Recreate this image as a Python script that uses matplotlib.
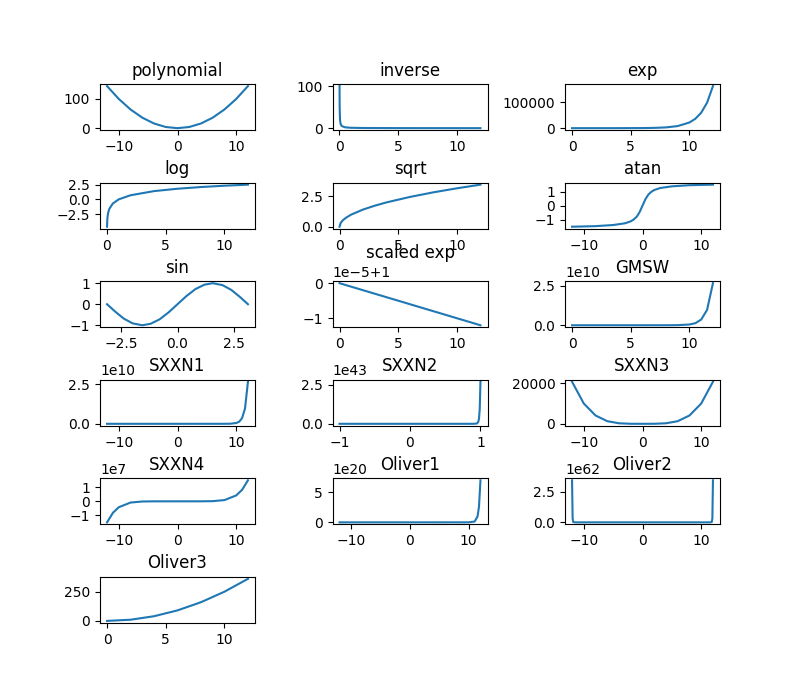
import matplotlib
matplotlib.use('Agg')
import matplotlib.pyplot as plt

# values, one (x, y) list pair per panel
poly_x = [-12, -10, -8, -6, -4, -2, 0, 2, 4, 6, 8, 10, 12]
poly_y = [144, 100, 64, 36, 16, 4, 0, 4, 16, 36, 64, 100, 144]
inv_x = [0.01, 0.02, 0.05, 0.1, 0.2, 0.5, 1, 2, 5, 12]
inv_y = [100, 50, 20, 10, 5, 2, 1, 0.5, 0.2, 0.08]
exp_x = [0, 2, 4, 6, 7, 8, 9, 10, 10.5, 11, 11.5, 12]
exp_y = [1, 7.4, 55, 403, 1097, 2981, 8103, 22026, 36316, 59874, 98715, 162755]
log_x = [0.01, 0.03, 0.05, 0.1, 0.2, 0.5, 1, 2, 4, 6, 8, 10, 12]
log_y = [-4.6, -3.5, -3.0, -2.3, -1.6, -0.7, 0, 0.69, 1.39, 1.79, 2.08, 2.3, 2.48]
sqrt_x = [0, 0.1, 0.3, 0.6, 1, 2, 3, 4, 6, 8, 10, 12]
sqrt_y = [0, 0.32, 0.55, 0.77, 1, 1.41, 1.73, 2, 2.45, 2.83, 3.16, 3.46]
atan_x = [-12, -8, -5, -3, -2, -1.5, -1, -0.5, 0, 0.5, 1, 1.5, 2, 3, 5, 8, 12]
atan_y = [-1.49, -1.45, -1.37, -1.25, -1.11, -0.98, -0.79, -0.46, 0, 0.46, 0.79, 0.98, 1.11, 1.25, 1.37, 1.45, 1.49]
sin_x = [-3.14, -2.8, -2.4, -2.0, -1.57, -1.2, -0.8, -0.4, 0, 0.4, 0.8, 1.2, 1.57, 2.0, 2.4, 2.8, 3.14]
sin_y = [0, -0.33, -0.68, -0.91, -1, -0.93, -0.72, -0.39, 0, 0.39, 0.72, 0.93, 1, 0.91, 0.68, 0.33, 0]
sexp_x = [0, 12]
sexp_y = [1.0, 1 - 1.2e-5]
gmsw_x = [0, 6, 8, 9, 10, 10.5, 11, 11.5, 12]
gmsw_y = [1, 1.6e5, 8.9e6, 6.6e7, 4.85e8, 1.3e9, 3.6e9, 9.7e9, 2.65e10]
sx1_x = [-12, 0, 8, 9, 10, 10.5, 11, 11.5, 12]
sx1_y = [0, 1, 8.9e6, 6.6e7, 4.85e8, 1.3e9, 3.6e9, 9.7e9, 2.65e10]
sx2_x = [-1, 0.9, 0.95, 0.97, 0.98, 0.99, 1.0]
sx2_y = [0, 0, 1.8e41, 1.3e42, 3.6e42, 9.9e42, 2.69e43]
sx3_x = [-12, -10, -8, -6, -4, -2, 0, 2, 4, 6, 8, 10, 12]
sx3_y = [20736, 10000, 4096, 1296, 256, 16, 0, 16, 256, 1296, 4096, 10000, 20736]
sx4_x = [-12, -11, -10, -8, -6, -4, 0, 4, 6, 8, 10, 11, 12]
sx4_y = [-1.5e7, -8.2e6, -4.2e6, -8.8e5, -1.2e5, -6.9e3, 0, 6.9e3, 1.2e5, 8.8e5, 4.2e6, 8.2e6, 1.5e7]
ol1_x = [-12, 0, 10, 11, 11.5, 11.75, 12]
ol1_y = [0, 1, 2.35e17, 1.3e19, 9.6e19, 2.6e20, 7.0e20]
ol2_x = [-12, -11.9, -11.8, -11.5, 0, 11.5, 11.8, 11.9, 12]
ol2_y = [3.45e62, 3.2e61, 3.0e60, 0, 0, 0, 3.0e60, 3.2e61, 3.45e62]
ol3_x = [0, 2, 4, 6, 8, 10, 12]
ol3_y = [0, 10, 40, 90, 160, 250, 360]

titles = ['polynomial', 'inverse', 'exp', 'log', 'sqrt', 'atan', 'sin',
          'scaled exp', 'GMSW', 'SXXN1', 'SXXN2', 'SXXN3', 'SXXN4',
          'Oliver1', 'Oliver2', 'Oliver3']
series = [(poly_x, poly_y), (inv_x, inv_y), (exp_x, exp_y), (log_x, log_y),
          (sqrt_x, sqrt_y), (atan_x, atan_y), (sin_x, sin_y), (sexp_x, sexp_y),
          (gmsw_x, gmsw_y), (sx1_x, sx1_y), (sx2_x, sx2_y), (sx3_x, sx3_y),
          (sx4_x, sx4_y), (ol1_x, ol1_y), (ol2_x, ol2_y), (ol3_x, ol3_y)]

fig, axes = plt.subplots(6, 3, figsize=(8, 7), dpi=100)
fig.subplots_adjust(hspace=1.13, wspace=0.5)
flat = axes.flatten()
for ax, title, (xs, ys) in zip(flat, titles, series):
    ax.plot(xs, ys)
    ax.set_title(title)
for ax in flat[len(titles):]:
    ax.remove()

plt.savefig('out.png', dpi=100)
